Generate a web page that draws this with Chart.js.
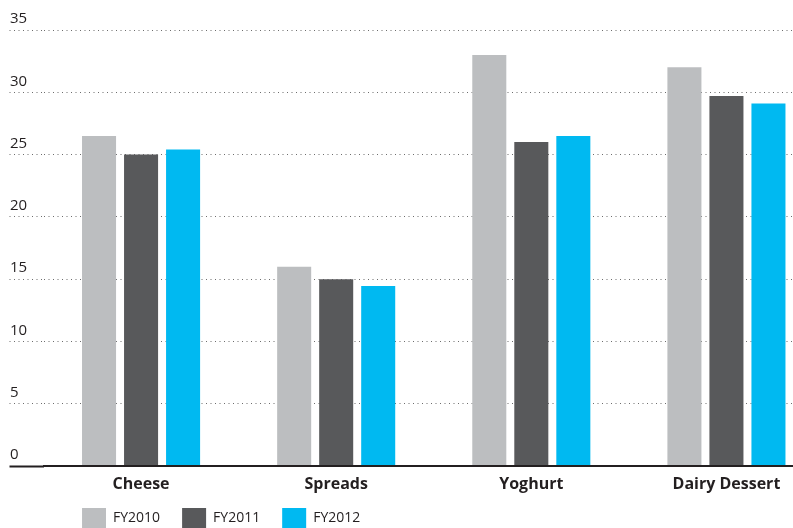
<!DOCTYPE html>
<html>
<head>
<meta charset="utf-8">
<script src="https://cdn.jsdelivr.net/npm/chart.js@4"></script>
<style>
  html, body { margin: 0; padding: 0; background: #fff; }
  #frame { width: 793px; height: 528px; position: relative; overflow: hidden; }
  /* the plot runs past the right edge of the picture, so the canvas is wider than the frame */
  #wrap { width: 824px; height: 554px; position: absolute; left: 0; top: 0; }
</style>
</head>
<body>
<div id="frame"><div id="wrap"><canvas id="dairyChart"></canvas></div></div>
<script>
// Data
const categories = ['Cheese', 'Spreads', 'Yoghurt', 'Dairy Dessert'];
const fy2010 = [26.5, 16, 33, 32];
const fy2011 = [25, 15, 26, 29.7];
const fy2012 = [25.4, 14.45, 26.5, 29.1];
const yTicks = [0, 5, 10, 15, 20, 25, 30, 35];

const inkColor = '#231f20';
const dotColor = 'rgba(60,60,60,0.75)';

Chart.defaults.font.family = "'Open Sans', 'Noto Sans', sans-serif";
Chart.defaults.color = inkColor;

// Move the legend: first swatch under the first bar column, and tucked up under the axis labels
const legendShift = {
    id: 'legendShift',
    afterUpdate(chart) {
        const legend = chart.legend;
        const first = chart.getDatasetMeta(0).data[0];
        if (legend && first && isFinite(first.x)) {
            legend.left = first.x - first.width / 2 - legend.options.labels.padding;
            legend.top = chart.scales.x.bottom - 16;
        }
    }
};

const ctx = document.getElementById('dairyChart').getContext('2d');
const dairyChart = new Chart(ctx, {
    type: 'bar',
    data: {
        labels: categories,
        datasets: [
            { label: 'FY2010', data: fy2010, backgroundColor: '#bcbec0' },
            { label: 'FY2011', data: fy2011, backgroundColor: '#58595b' },
            { label: 'FY2012', data: fy2012, backgroundColor: '#00b9f1' }
        ]
    },
    options: {
        responsive: true,
        maintainAspectRatio: false,
        animation: false,
        datasets: {
            bar: {
                categoryPercentage: 0.646,
                barPercentage: 0.81,
                clip: false
            }
        },
        layout: {
            padding: { top: 30, left: 10, right: 0, bottom: 0 }
        },
        plugins: {
            tooltip: { enabled: false },
            legend: {
                position: 'bottom',
                align: 'start',
                labels: {
                    boxWidth: 24,
                    boxHeight: 20,
                    padding: 22,
                    color: inkColor,
                    font: { size: 14 }
                }
            }
        },
        scales: {
            x: {
                grid: { display: false, drawTicks: false },
                border: { display: true, color: inkColor, width: 2, z: 1 },
                ticks: {
                    padding: 9,
                    color: inkColor,
                    font: { size: 16, weight: 'bold' },
                    maxRotation: 0,
                    autoSkip: false
                },
                afterFit(scale) { scale.height = 36; }
            },
            y: {
                min: 0,
                max: 35,
                afterBuildTicks(scale) {
                    scale.ticks = yTicks.map(v => ({ value: v }));
                },
                border: { display: false, dash: [1, 3.5] },
                grid: {
                    color: (c) => c.tick && c.tick.value === 0 ? 'rgba(0,0,0,0)' : dotColor,
                    lineWidth: 1,
                    drawTicks: true,
                    tickLength: 34,
                    tickColor: (c) => c.tick && c.tick.value === 0 ? inkColor : dotColor,
                    tickWidth: (c) => c.tick && c.tick.value === 0 ? 2 : 1,
                    tickBorderDash: (c) => c.tick && c.tick.value === 0 ? [] : [1, 3.5]
                },
                ticks: {
                    crossAlign: 'far',
                    labelOffset: -11,
                    padding: 0,
                    color: inkColor,
                    font: { size: 15 }
                },
                afterFit(scale) { scale.width = 33.5; }
            }
        }
    },
    plugins: [legendShift]
});
</script>
</body>
</html>
